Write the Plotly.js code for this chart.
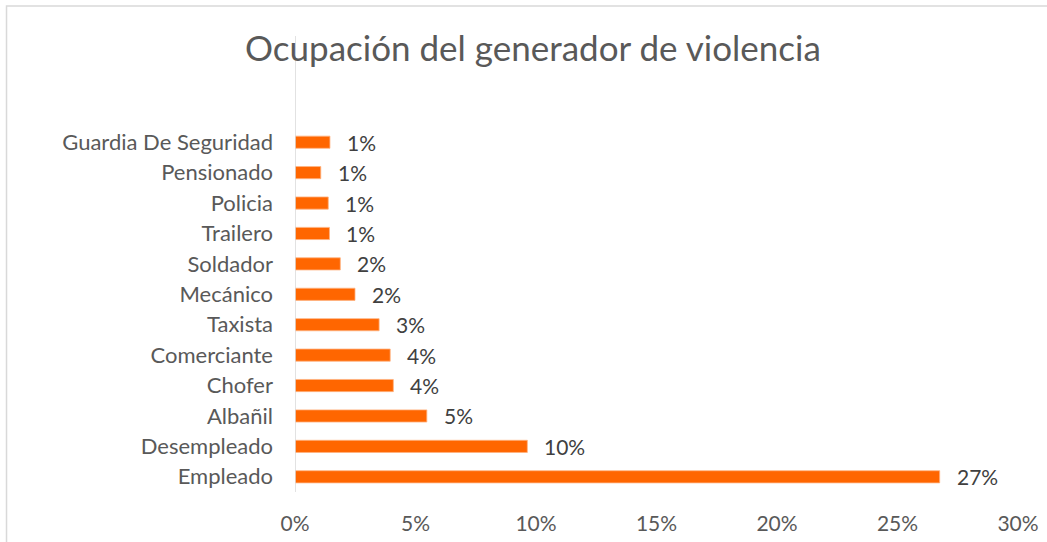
<!DOCTYPE html>
<html>
<head>
<meta charset="utf-8">
<script src="https://cdn.plot.ly/plotly-3.0.1.min.js"></script>
<style>
html,body{margin:0;padding:0;background:#fff;}
#chart{width:1047px;height:542px;}
</style>
</head>
<body>
<div id="chart"></div>
<script>
var categories = ["Empleado","Desempleado","Albañil","Chofer","Comerciante","Taxista","Mecánico","Soldador","Trailero","Policia","Pensionado","Guardia De Seguridad"];
var values = [0.2675,0.0964,0.0547,0.0408,0.0395,0.0349,0.0249,0.0188,0.0143,0.0138,0.0107,0.0145];
var tickValues = [0,0.05,0.10,0.15,0.20,0.25,0.30];
var tickLabels = ["0%","5%","10%","15%","20%","25%","30%"];

var font = "Lato, Open Sans, sans-serif";

var annotations = categories.map(function(c,i){
  return {x: values[i], y: c, xref:'x', yref:'y', text: Math.round(values[i]*100)+'%',
    showarrow:false, xanchor:'left', yanchor:'middle', xshift:15,
    font:{family:font,size:21,color:'#404040'}};
});

var trace = {
  type:'bar', orientation:'h', x: values, y: categories,
  marker:{color:'#FF6600', line:{color:'#FFB380', width:0.8}},
  hoverinfo:'none'
};

var layout = {
  width:1047, height:542,
  margin:{l:295, r:29, t:127, b:50},
  paper_bgcolor:'#ffffff', plot_bgcolor:'#ffffff',
  bargap:0.6,
  showlegend:false,
  title:{text:'Ocupación del generador de violencia', font:{family:font,size:35,color:'#595959'},
    x:0.509, xanchor:'center', y:0.91, yanchor:'middle'},
  xaxis:{range:[0,0.30], tickvals:tickValues, ticktext:tickLabels, showgrid:false, zeroline:false,
    showline:false, ticks:'', ticklabelstandoff:17, fixedrange:true,
    tickfont:{family:font,size:21,color:'#595959'}},
  yaxis:{type:'category', categoryorder:'array', categoryarray:categories, showgrid:false, zeroline:false,
    showline:false, ticks:'', ticklabelstandoff:21, fixedrange:true,
    tickfont:{family:font,size:22,color:'#595959'}},
  annotations: annotations,
  shapes:[
    {type:'line', xref:'x', yref:'paper', x0:0, x1:0, y0:0, y1:1.249, line:{color:'#D9D9D9', width:1.5}},
    {type:'rect', xref:'paper', yref:'paper', x0:-0.399, x1:1.05, y0:-0.2, y1:1.3315, line:{color:'#D9D9D9', width:1.5}, layer:'below'}
  ]
};

Plotly.newPlot('chart',[trace],layout,{displayModeBar:false, staticPlot:true});
</script>
</body>
</html>
